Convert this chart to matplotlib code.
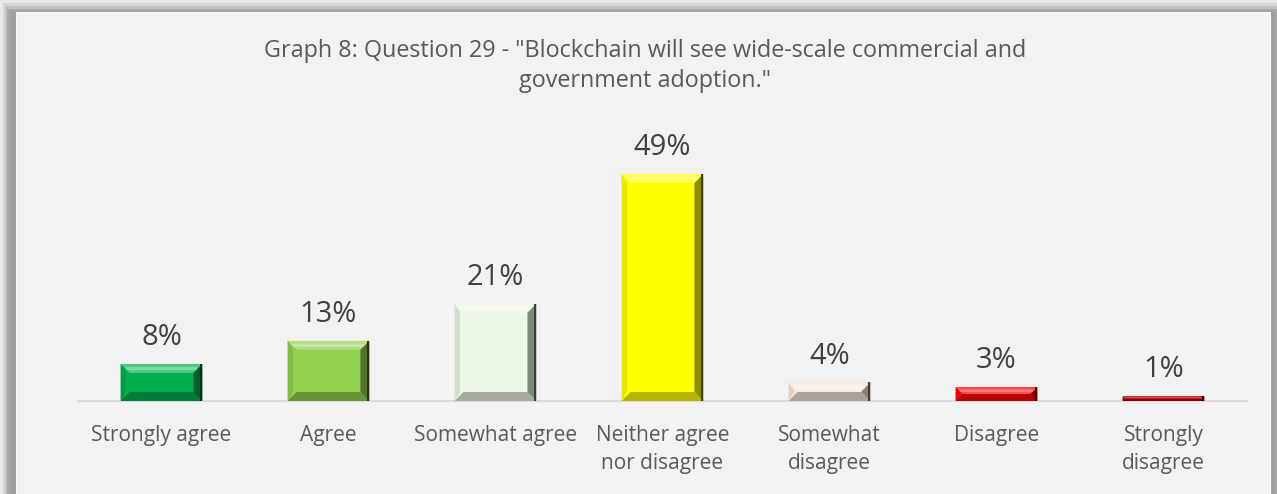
import matplotlib.pyplot as plt
import numpy as np
from matplotlib.patches import Polygon, Rectangle
from matplotlib.colors import to_rgb

categories = ["Strongly agree", "Agree", "Somewhat agree", "Neither agree\nnor disagree",
              "Somewhat\ndisagree", "Disagree", "Strongly\ndisagree"]
values = [8, 13, 21, 49, 4, 3, 1]
bar_colors = ["#00b050", "#92d050", "#ebf7e3", "#ffff00", "#f5e6da", "#ff0000", "#c00000"]
title = 'Graph 8: Question 29 - "Blockchain will see wide-scale commercial and\ngovernment adoption."'

W, H = 1277, 494
DPI = 100


def mix(c, other, t):
    c, other = np.array(to_rgb(c)), np.array(to_rgb(other))
    return tuple(c * (1 - t) + other * t)


plt.rcParams["font.family"] = ["Open Sans", "DejaVu Sans"]

fig = plt.figure(figsize=(W / DPI, H / DPI), dpi=DPI)
fig.patch.set_facecolor("#e8e8e8")


def px_rect(x0, y0, x1, y1, color, z):
    # rectangle given in pixels from the top-left corner
    fig.patches.append(Rectangle((x0 / W, 1 - y1 / H), (x1 - x0) / W, (y1 - y0) / H,
                                 transform=fig.transFigure, facecolor=color,
                                 edgecolor="none", zorder=z))


# drop shadow and chart panel
px_rect(3, 3, W, H, "#d6d6d6", -6)
px_rect(5, 6, W, H, "#c2c2c2", -5)
px_rect(7, 9, W, H, "#a8a8a8", -4)
px_rect(10, 11, 1275, H, "#a0a0a0", -3)
px_rect(16, 12, 1271, H, "#fafafa", -2)
px_rect(17, 13, 1270, H, "#f2f2f2", -1)

ax = fig.add_axes([78 / W, 1 - 401 / H, 1169 / W, 278 / H])
ax.set_facecolor("none")
x = np.arange(len(values))
bars = ax.bar(x, values, width=0.49, color=bar_colors, zorder=2)
ax.set_xlim(-0.5, len(values) - 0.5)
ax.set_ylim(0, 60)

for s in ["top", "right", "left"]:
    ax.spines[s].set_visible(False)
ax.spines["bottom"].set_color("#d9d9d9")
ax.spines["bottom"].set_linewidth(1.6)
ax.spines["bottom"].set_zorder(1)
ax.set_yticks([])
ax.set_xticks(x)
ax.set_xticklabels(categories, fontsize=15, color="#595959", linespacing=1.48)
ax.tick_params(axis="x", length=0, pad=17)

for xi, v in zip(x, values):
    ax.annotate(f"{v}%", (xi, v), xytext=(0, 19), textcoords="offset points",
                ha="center", va="center", fontsize=21, color="#404040")

fig.text(645 / W, 1 - 66 / H, title, ha="center", va="center", fontsize=16.8,
         color="#595959", linespacing=1.38)

# bevelled faces on each bar, built from the bar's drawn extent
fig.canvas.draw()
for bar, c in zip(bars, bar_colors):
    bb = bar.get_window_extent()
    x0, y0, x1, y1 = bb.x0, bb.y0, bb.x1, bb.y1
    b = min(9.0, (y1 - y0) / 2.0)
    faces = [
        ([(x0, y1), (x1, y1), (x1 - b, y1 - b), (x0 + b, y1 - b)], mix(c, "white", 0.3)),
        ([(x0, y0), (x1, y0), (x1 - b, y0 + b), (x0 + b, y0 + b)], mix(c, "black", 0.3)),
        ([(x0, y0), (x0, y1), (x0 + b * 0.6, y1 - b), (x0 + b * 0.6, y0 + b)], mix(c, "black", 0.1)),
        ([(x1, y0), (x1, y1), (x1 - b, y1 - b), (x1 - b, y0 + b)], mix(c, "black", 0.45)),
    ]
    for pts, fc in faces:
        ax.add_patch(Polygon(pts, closed=True, transform=None, facecolor=fc,
                             edgecolor="none", zorder=3))
    # highlight strip across the top face and a dark rim on the right edge
    if b > 5:
        ax.add_patch(Polygon([(x0 + b * 0.5, y1 - b * 0.35), (x1 - b * 0.5, y1 - b * 0.35),
                              (x1 - b * 0.7, y1 - b * 0.7), (x0 + b * 0.7, y1 - b * 0.7)],
                             closed=True, transform=None, facecolor=mix(c, "white", 0.5),
                             edgecolor="none", zorder=4))
    ax.add_patch(Polygon([(x1 - 2, y0), (x1, y0), (x1, y1), (x1 - 2, y1)], closed=True,
                         transform=None, facecolor=mix(c, "black", 0.75),
                         edgecolor="none", zorder=4))

fig.savefig("out.png", dpi=DPI, facecolor=fig.get_facecolor())
plt.close(fig)
